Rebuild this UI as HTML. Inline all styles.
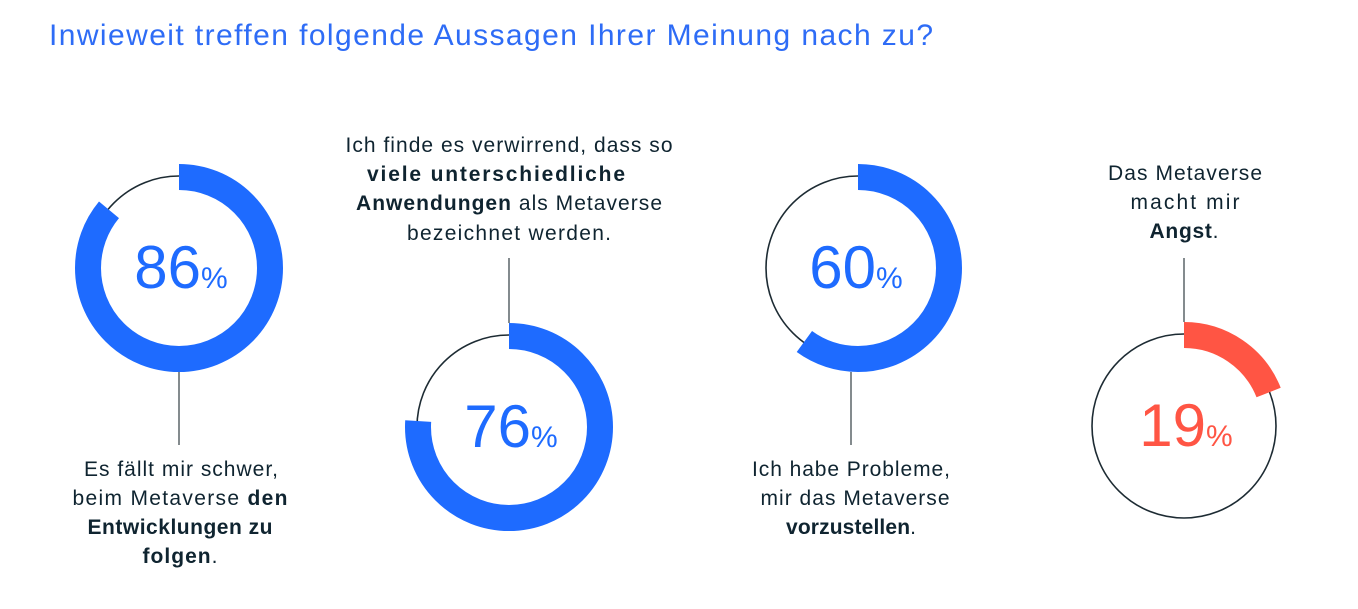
<!DOCTYPE html>
<html><head><meta charset="utf-8"><style>
body{margin:0;background:#fff;width:1358px;height:609px;overflow:hidden;font-family:"Liberation Sans",sans-serif}
svg{position:absolute;left:0;top:0}
</style></head><body>
<svg width="1358" height="609" viewBox="0 0 1358 609" font-family="Liberation Sans, sans-serif">
<text x="49" y="45" font-size="30" fill="#2e6cf6" textLength="884" lengthAdjust="spacing">Inwieweit treffen folgende Aussagen Ihrer Meinung nach zu?</text>
<g fill="none">
<circle cx="179" cy="268" r="92" stroke="#1d2b33" stroke-width="1.6"/>
<circle cx="179" cy="268" r="91" stroke="#1e6bff" stroke-width="26" stroke-dasharray="491.7 600" transform="rotate(-90 179 268)"/>
<circle cx="509" cy="427" r="92" stroke="#1d2b33" stroke-width="1.6"/>
<circle cx="509" cy="427" r="91" stroke="#1e6bff" stroke-width="26" stroke-dasharray="434.6 600" transform="rotate(-90 509 427)"/>
<circle cx="858" cy="268" r="92" stroke="#1d2b33" stroke-width="1.6"/>
<circle cx="858" cy="268" r="91" stroke="#1e6bff" stroke-width="26" stroke-dasharray="343.1 600" transform="rotate(-90 858 268)"/>
<circle cx="1184" cy="426" r="92" stroke="#1d2b33" stroke-width="1.6"/>
<circle cx="1184" cy="426" r="91" stroke="#ff5544" stroke-width="26" stroke-dasharray="108.6 600" transform="rotate(-90 1184 426)"/>
</g>
<g stroke="#5a6468" stroke-width="1.5">
<line x1="179" y1="372" x2="179" y2="445"/>
<line x1="509" y1="258" x2="509" y2="323"/>
<line x1="851" y1="372" x2="851" y2="445"/>
<line x1="1184" y1="258" x2="1184" y2="322"/>
</g>
<g text-anchor="middle">
<text x="181" y="288" font-size="60" fill="#1e6bff">86<tspan font-size="30">%</tspan></text>
<text x="511" y="447" font-size="60" fill="#1e6bff">76<tspan font-size="30">%</tspan></text>
<text x="856" y="288" font-size="60" fill="#1e6bff">60<tspan font-size="30">%</tspan></text>
<text x="1186" y="446" font-size="60" fill="#ff5544">19<tspan font-size="30">%</tspan></text>
</g>
<g text-anchor="middle" font-size="21" fill="#0f2430" lengthAdjust="spacing">
<text x="181" y="476" textLength="194">Es fällt mir schwer,</text>
<text x="180" y="505" textLength="215">beim Metaverse <tspan font-weight="bold">den</tspan></text>
<text x="180" y="534" font-weight="bold" textLength="185">Entwicklungen zu</text>
<text x="180" y="563" textLength="75"><tspan font-weight="bold">folgen</tspan>.</text>
<text x="509" y="152" textLength="327">Ich finde es verwirrend, dass so</text>
<text x="496" y="181" font-weight="bold" textLength="258">viele unterschiedliche</text>
<text x="509" y="210" textLength="306"><tspan font-weight="bold">Anwendungen</tspan> als Metaverse</text>
<text x="509" y="240" textLength="204">bezeichnet werden.</text>
<text x="851" y="476" textLength="198">Ich habe Probleme,</text>
<text x="855" y="505" textLength="189">mir das Metaverse</text>
<text x="851" y="534" textLength="130"><tspan font-weight="bold">vorzustellen</tspan>.</text>
<text x="1185" y="180" textLength="154">Das Metaverse</text>
<text x="1185" y="209" textLength="109">macht mir</text>
<text x="1184" y="238" textLength="69"><tspan font-weight="bold">Angst</tspan>.</text>
</g>
</svg>
</body></html>
